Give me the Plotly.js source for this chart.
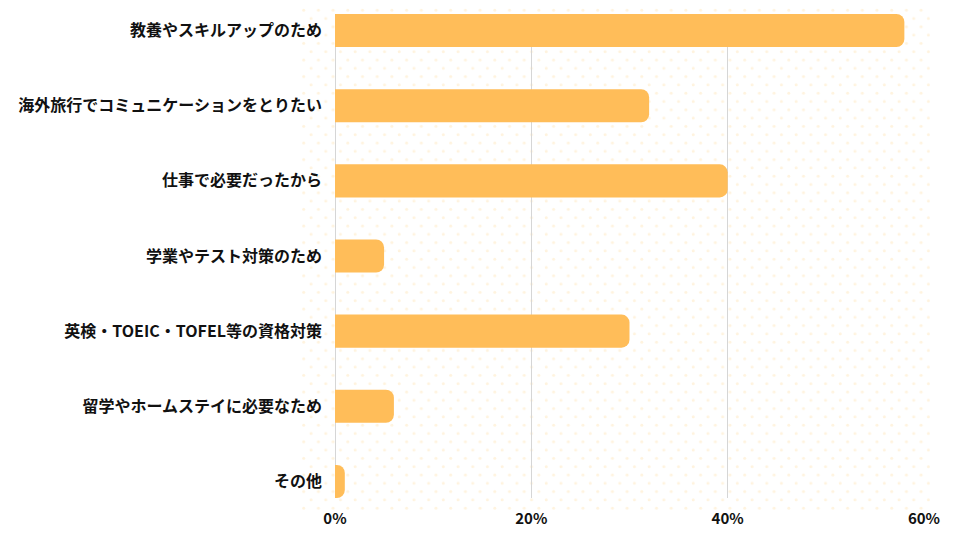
<!DOCTYPE html>
<html>
<head>
<meta charset="utf-8">
<script src="https://cdn.plot.ly/plotly-3.0.1.min.js"></script>
<style>html,body{margin:0;padding:0;background:#fff;}#chart{width:960px;height:540px;}</style>
</head>
<body>
<div id="chart"></div>
<script>
const categories = [
  "教養やスキルアップのため",
  "海外旅行でコミュニケーションをとりたい",
  "仕事で必要だったから",
  "学業やテスト対策のため",
  "英検・TOEIC・TOFEL等の資格対策",
  "留学やホームステイに必要なため",
  "その他"
];
const values = [58, 32, 40, 5, 30, 6, 1];
const xTicks = [0, 20, 40, 60];
const xTickLabels = ["0%", "20%", "40%", "60%"];

const W = 630, H = 504;
const svg = '<svg xmlns="http://www.w3.org/2000/svg" width="' + W + '" height="' + H + '">' +
  '<defs><pattern id="p" width="14.7" height="16.6" patternUnits="userSpaceOnUse">' +
  '<circle cx="3.7" cy="4.1" r="1.5" fill="#FFF3DE"/>' +
  '<circle cx="11.05" cy="12.4" r="1.5" fill="#FFF3DE"/>' +
  '</pattern></defs><rect width="' + W + '" height="' + H + '" fill="url(#p)"/></svg>';
const dotsSrc = 'data:image/svg+xml;charset=utf-8,' + encodeURIComponent(svg);

const font = '"Noto Sans CJK JP", "Noto Sans", sans-serif';

const trace = {
  type: 'bar',
  orientation: 'h',
  y: categories,
  x: values,
  marker: {color: '#FFBD59', cornerradius: 8},
  width: 0.44,
  hoverinfo: 'x+y'
};

const layout = {
  width: 960,
  height: 540,
  margin: {l: 335, r: 36, t: 14, b: 42},
  paper_bgcolor: '#ffffff',
  plot_bgcolor: 'rgba(0,0,0,0)',
  showlegend: false,
  font: {family: font, color: '#111111', size: 14},
  xaxis: {
    range: [0, 60],
    tickvals: xTicks,
    ticktext: xTickLabels,
    showgrid: true,
    gridcolor: '#d6d6d6',
    gridwidth: 1,
    zeroline: true,
    zerolinecolor: '#d6d6d6',
    zerolinewidth: 1,
    showline: false,
    ticks: '',
    ticklabelstandoff: 10,
    tickfont: {family: font, size: 15, weight: 'bold', color: '#111111'},
    fixedrange: true
  },
  yaxis: {
    type: 'category',
    range: [6.22, -0.22],
    showgrid: false,
    zeroline: false,
    showline: false,
    ticks: '',
    ticklabelstandoff: 12,
    tickfont: {family: font, size: 16, weight: 'bold', color: '#111111'},
    fixedrange: true
  },
  images: [{
    source: dotsSrc,
    xref: 'paper', yref: 'paper',
    x: -0.0594, y: 1.0165,
    sizex: 1.0696, sizey: 1.0413,
    xanchor: 'left', yanchor: 'top',
    sizing: 'stretch',
    layer: 'below'
  }]
};

Plotly.newPlot('chart', [trace], layout, {displayModeBar: false, staticPlot: true});
</script>
</body>
</html>
